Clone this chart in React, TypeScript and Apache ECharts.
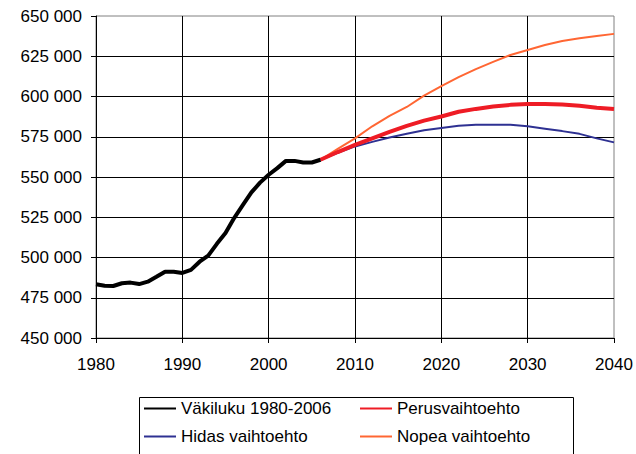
import React, { useEffect, useRef } from "react";
import * as echarts from "echarts";

const histYears = [1980, 1981, 1982, 1983, 1984, 1985, 1986, 1987, 1988, 1989, 1990, 1991, 1992, 1993, 1994, 1995, 1996, 1997, 1998, 1999, 2000, 2001, 2002, 2003, 2004, 2005, 2006];
const histValues = [483400, 482500, 482300, 484000, 484400, 483500, 485000, 488000, 491200, 491200, 490400, 492300, 497400, 501200, 508500, 515200, 524500, 532500, 540500, 546500, 551400, 555500, 560000, 560000, 559000, 559000, 560700];

const projYears = [2006, 2008, 2010, 2012, 2014, 2016, 2018, 2020, 2022, 2024, 2026, 2028, 2030, 2032, 2034, 2036, 2038, 2040];
const perusValues = [560700, 565500, 570000, 574000, 578000, 581800, 585000, 587600, 590500, 592300, 593800, 594800, 595300, 595300, 595000, 594200, 593000, 592200];
const hidasValues = [560700, 565000, 569000, 571800, 574500, 576800, 579000, 580400, 581800, 582400, 582400, 582400, 581500, 580000, 578500, 576800, 574000, 571500];
const nopeaValues = [560700, 567500, 574000, 581500, 588000, 593500, 600500, 606500, 612000, 617000, 621500, 625800, 628900, 632000, 634500, 636200, 637600, 638900];

const seriesNames = ["Väkiluku 1980-2006", "Perusvaihtoehto", "Hidas vaihtoehto", "Nopea vaihtoehto"];

const zip = (xs: number[], ys: number[]) => xs.map((x, i) => [x, ys[i]]);

const FONT = "Liberation Sans, Arial, sans-serif";
const FS = 17;

const legendCommon = {
  orient: "vertical",
  top: 400,
  padding: 0,
  itemWidth: 32,
  itemHeight: 17,
  itemGap: 11,
  itemStyle: { opacity: 0 },
  textStyle: { fontSize: FS, fontFamily: FONT, color: "#000", lineHeight: 17 },
};

export default function App() {
  const ref = useRef<HTMLDivElement>(null);
  useEffect(() => {
    if (!ref.current) return;
    const chart = echarts.init(ref.current, null, { renderer: "svg" });
    chart.setOption({
      animation: false,
      backgroundColor: "#ffffff",
      textStyle: { fontFamily: FONT },
      grid: {
        left: 96,
        right: 22,
        top: 16,
        bottom: 116,
        show: true,
        borderColor: "#808080",
        borderWidth: 1,
      },
      xAxis: {
        type: "value",
        min: 1980,
        max: 2040,
        interval: 10,
        axisLine: { lineStyle: { color: "#000", width: 1 } },
        axisTick: { show: true, inside: false, length: 5, lineStyle: { color: "#000" } },
        axisLabel: { color: "#000", fontSize: FS, fontFamily: FONT, margin: 18, formatter: (v: number) => String(v) },
        splitLine: { show: true, showMinLine: false, showMaxLine: false, lineStyle: { color: "#000", width: 1 } },
      },
      yAxis: {
        type: "value",
        min: 450000,
        max: 650000,
        interval: 25000,
        axisLine: { show: true, lineStyle: { color: "#000", width: 1 } },
        axisTick: { show: true, inside: false, length: 5, lineStyle: { color: "#000" } },
        axisLabel: {
          color: "#000",
          fontSize: FS,
          fontFamily: FONT,
          margin: 14,
          formatter: (v: number) => {
            const s = String(Math.round(v));
            return s.replace(/\B(?=(\d{3})+(?!\d))/g, " ");
          },
        },
        splitLine: { show: true, showMinLine: false, showMaxLine: false, lineStyle: { color: "#000", width: 1 } },
      },
      legend: [
        { ...legendCommon, left: 143, data: [seriesNames[0], seriesNames[2]] },
        { ...legendCommon, left: 359, data: [seriesNames[1], seriesNames[3]] },
      ],
      graphic: [
        {
          type: "rect",
          left: 137,
          top: 395,
          shape: { width: 434, height: 57 },
          style: { fill: "none", stroke: "#000", lineWidth: 1 },
          z: -1,
        },
      ],
      series: [
        {
          name: seriesNames[2],
          type: "line",
          data: zip(projYears, hidasValues),
          symbol: "none",
          lineStyle: { color: "#2E3192", width: 2 },
          itemStyle: { color: "#2E3192" },
          z: 3,
        },
        {
          name: seriesNames[3],
          type: "line",
          data: zip(projYears, nopeaValues),
          symbol: "none",
          lineStyle: { color: "#FF6633", width: 2 },
          itemStyle: { color: "#FF6633" },
          z: 3,
        },
        {
          name: seriesNames[1],
          type: "line",
          data: zip(projYears, perusValues),
          symbol: "none",
          lineStyle: { color: "#EE1C25", width: 4 },
          itemStyle: { color: "#EE1C25" },
          z: 4,
        },
        {
          name: seriesNames[0],
          type: "line",
          data: zip(histYears, histValues),
          symbol: "none",
          lineStyle: { color: "#000000", width: 4 },
          itemStyle: { color: "#000000" },
          z: 5,
        },
      ],
    });
    return () => chart.dispose();
  }, []);
  return <div ref={ref} style={{ position: "fixed", left: 0, top: 0, width: 636, height: 454 }} />;
}
